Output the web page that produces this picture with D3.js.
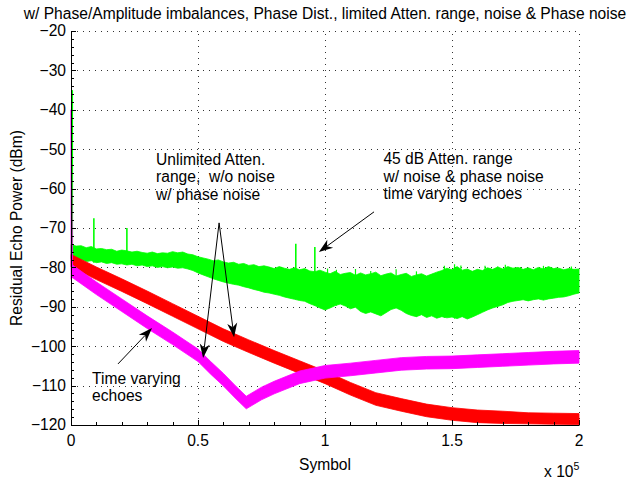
<!DOCTYPE html>
<html><head><meta charset="utf-8">
<script src="https://cdn.jsdelivr.net/npm/d3@7/dist/d3.min.js"></script>
<style>
body{margin:0;background:#fff}
svg{display:block}
text{font-family:"Liberation Sans",Arial,Helvetica,sans-serif;fill:#000;white-space:pre}
</style>
</head><body>
<svg id="chart" width="628" height="479"></svg>
<script>
// ---------- data ----------
const titleText = "w/ Phase/Amplitude imbalances, Phase Dist., limited Atten. range, noise & Phase noise";
const xLabel = "Symbol";
const yLabel = "Residual Echo Power (dBm)";
const xTicks = [0, 50000, 100000, 150000, 200000];
const xTickLabels = ["0", "0.5", "1", "1.5", "2"];
const yTicks = [-20, -30, -40, -50, -60, -70, -80, -90, -100, -110, -120];
const yTickLabels = ["\u221220","\u221230","\u221240","\u221250","\u221260","\u221270","\u221280","\u221290","\u2212100","\u2212110","\u2212120"];

// Green: 45 dB atten. range, noise, time varying echoes (sampled every 2000 symbols)
const greenStep = 2000;
const greenUpper = [
 -74.2,-74.6,-74.5,-75.0,-74.7,-75.3,-75.2,-75.5,-75.4,-75.9,-75.6,-75.8,-76.1,-75.9,-76.2,-76.4,-76.1,-76.5,-76.3,-76.4,-76.0,-76.3,-76.1,-76.6,-76.8,
 -77.3,-77.6,-77.9,-78.3,-78.1,-78.6,-78.9,-78.7,-79.2,-79.0,-79.5,-79.3,-79.8,-79.6,-79.9,-80.3,-79.8,-80.2,-80.5,-80.1,-80.6,-80.3,-80.9,-81.1,-80.7,
 -81.2,-81.6,-81.0,-81.8,-81.5,-81.3,-82.0,-81.4,-81.9,-81.6,-81.2,-82.1,-81.7,-81.4,-82.2,-81.8,-81.5,-82.3,-81.9,-81.6,-82.2,-81.7,-81.2,-80.8,-80.2,
 -80.6,-79.8,-80.7,-80.4,-81.0,-80.5,-80.8,-80.1,-80.5,-79.9,-80.4,-79.8,-80.2,-80.0,-80.5,-80.1,-80.6,-80.0,-80.4,-79.8,-80.3,-80.2,-80.6,-80.3,-80.5,-80.4
];
const greenLower = [
 -77.8,-78.2,-78.0,-78.5,-78.3,-78.8,-78.6,-79.0,-78.8,-79.2,-79.1,-79.4,-79.2,-79.6,-79.4,-79.8,-79.6,-80.0,-79.8,-80.1,-79.9,-80.2,-80.1,-80.4,-80.8,
 -81.4,-81.9,-82.4,-82.9,-83.3,-83.7,-84.0,-84.3,-84.5,-84.9,-85.2,-85.6,-85.9,-86.3,-86.5,-86.8,-87.1,-87.5,-87.8,-88.1,-88.4,-88.6,-89.2,-89.7,-90.3,
 -90.8,-90.3,-89.7,-89.3,-89.8,-90.5,-90.1,-91.2,-91.7,-91.3,-91.8,-92.3,-91.5,-90.7,-90.3,-90.9,-91.7,-92.2,-92.5,-92.0,-92.7,-92.3,-92.9,-92.5,-92.8,
 -92.6,-93.0,-92.5,-93.1,-92.6,-92.0,-91.4,-90.8,-90.3,-89.9,-89.5,-88.9,-88.6,-88.4,-88.2,-88.5,-88.2,-88.0,-88.3,-88.0,-87.8,-87.6,-87.5,-87.2,-86.8,-86.5
];
// narrow spikes of the green trace: [symbol, peak dBm]
const greenSpikeX   = [500, 9000, 22000, 88500, 96000, 101000, 104500, 112000, 118000, 128000, 136000, 147000, 151000, 153500, 163000, 168000, 171000, 177000, 186000, 191000, 197000];
const greenSpikeTop = [-35, -67.5, -70, -74, -74.8, -80.3, -80.6, -80.4, -80.9, -80.5, -81.0, -79.6, -79.2, -79.5, -79.6, -79.8, -79.3, -79.9, -79.6, -80.0, -79.8];

// Red: unlimited atten. range, w/o noise, w/ phase noise
const redX     = [0, 10000, 20000, 30000, 40000, 50000, 60000, 70000, 80000, 90000, 100000, 110000, 120000, 130000, 140000, 150000, 160000, 170000, 180000, 190000, 200000];
const redUpper = [-76.7,-79.9,-82.9,-86.0,-89.2,-92.4,-95.6,-98.4,-101.1,-103.7,-106.3,-109.2,-111.8,-113.3,-114.7,-115.6,-116.2,-116.5,-116.9,-117.0,-117.1];
const redLower = [-79.9,-83.1,-86.1,-89.2,-92.4,-95.6,-98.8,-101.6,-104.3,-106.9,-109.5,-112.4,-115.0,-116.5,-117.9,-118.8,-119.4,-119.6,-119.7,-119.8,-119.9];

// Magenta: unlimited atten. range, time varying echoes
const magX     = [0, 600, 10000, 20000, 30000, 40000, 50000, 55000, 60000, 65000, 69000, 75000, 80000, 90000, 100000, 110000, 120000, 130000, 140000, 150000, 160000, 170000, 180000, 190000, 200000];
const magUpper = [-40.0,-79.4,-83.7,-88.0,-92.3,-96.4,-100.7,-103.9,-106.9,-110.2,-112.7,-110.4,-108.9,-106.3,-104.9,-104.3,-103.6,-102.9,-102.6,-102.5,-102.2,-101.9,-101.6,-101.3,-101.1];
const magLower = [-83.0,-82.6,-86.9,-91.2,-95.5,-99.6,-103.9,-107.1,-110.1,-113.4,-115.9,-113.6,-112.1,-109.5,-108.1,-107.5,-106.8,-106.1,-105.8,-105.7,-105.4,-105.1,-104.8,-104.5,-104.3];

// annotations (data coordinates)
const noteLines = [
  {x: 33500, y: -54.0, lines: ["Unlimited Atten.", "range,  w/o noise", "w/ phase noise"]},
  {x: 123000, y: -53.8, lines: ["45 dB Atten. range", "w/ noise & phase noise", "time varying echoes"]},
  {x: 8300, y: -109.5, lines: ["Time varying", "echoes"]}
];
const arrows = [
  {x1: 58300, y1: -68.7, x2: 52000, y2: -103.0},
  {x1: 58300, y1: -68.7, x2: 64200, y2: -97.7},
  {x1: 119300, y1: -65.9, x2: 97600, y2: -76.1},
  {x1: 18500, y1: -104.5, x2: 31900, y2: -95.4}
];

// ---------- drawing ----------
const W = 628, H = 479;
const L = 71, R = 579, T = 31, B = 425;
const svg = d3.select("#chart");
svg.append("rect").attr("width", W).attr("height", H).attr("fill", "#fff");

const x = d3.scaleLinear().domain([0, 200000]).range([L, R]);
const y = d3.scaleLinear().domain([-120, -20]).range([B, T]);

// grid
const grid = svg.append("g").attr("stroke", "#333").attr("stroke-width", 1).attr("stroke-dasharray", "1,5");
yTicks.forEach(v => {
  grid.append("line").attr("x1", L).attr("x2", R).attr("y1", Math.round(y(v)) + 0.5).attr("y2", Math.round(y(v)) + 0.5);
});
xTicks.forEach(v => {
  grid.append("line").attr("y1", B).attr("y2", T).attr("x1", Math.round(x(v)) + 0.5).attr("x2", Math.round(x(v)) + 0.5);
});

const plot = svg.append("g");

// green band
const greenData = greenUpper.map((u, i) => ({x: i * greenStep, u: u, l: greenLower[i]}));
plot.append("path").datum(greenData)
  .attr("fill", "#00ff00").attr("stroke", "#00ff00").attr("stroke-width", 0.8)
  .attr("d", d3.area().x(d => x(d.x)).y0(d => y(d.l)).y1(d => y(d.u)));
// green spikes
greenSpikeX.forEach((sx, i) => {
  const idx = Math.min(greenUpper.length - 1, Math.round(sx / greenStep));
  plot.append("line").attr("x1", x(sx)).attr("x2", x(sx))
    .attr("y1", y(greenLower[idx])).attr("y2", y(greenSpikeTop[i]))
    .attr("stroke", "#00ff00").attr("stroke-width", i < 5 ? 1.6 : 1.2);
});

// red band
const redData = redX.map((xv, i) => ({x: xv, u: redUpper[i], l: redLower[i]}));
plot.append("path").datum(redData)
  .attr("fill", "#ff0000").attr("stroke", "#ff0000").attr("stroke-width", 0.8)
  .attr("d", d3.area().x(d => x(d.x)).y0(d => y(d.l)).y1(d => y(d.u)));

// magenta band
const magData = magX.map((xv, i) => ({x: xv, u: magUpper[i], l: magLower[i]}));
plot.append("path").datum(magData)
  .attr("fill", "#ff00ff").attr("stroke", "#ff00ff").attr("stroke-width", 0.8)
  .attr("d", d3.area().x(d => x(d.x)).y0(d => y(d.l)).y1(d => y(d.u)));

// axes
const ax = svg.append("g").attr("stroke", "#000").attr("stroke-width", 1).attr("fill", "none");
ax.append("line").attr("x1", L + 0.5).attr("x2", L + 0.5).attr("y1", T).attr("y2", B + 0.5);
ax.append("line").attr("x1", L).attr("x2", R + 0.5).attr("y1", B + 0.5).attr("y2", B + 0.5);
yTicks.forEach(v => {
  const yy = Math.round(y(v)) + 0.5;
  ax.append("line").attr("x1", L).attr("x2", L + 5).attr("y1", yy).attr("y2", yy);
});
xTicks.forEach(v => {
  const xx = Math.round(x(v)) + 0.5;
  ax.append("line").attr("x1", xx).attr("x2", xx).attr("y1", B).attr("y2", B - 5);
});
d3.range(-120, -20, 2).forEach(v => {
  if (v % 10 === 0) return;
  const yy = Math.round(y(v)) + 0.5;
  ax.append("line").attr("x1", L).attr("x2", L + 3).attr("y1", yy).attr("y2", yy);
});
d3.range(0, 200000, 10000).forEach(v => {
  if (v % 50000 === 0) return;
  const xx = Math.round(x(v)) + 0.5;
  ax.append("line").attr("x1", xx).attr("x2", xx).attr("y1", B).attr("y2", B - 3);
});

// tick labels
const fs = 15.6;
yTicks.forEach((v, i) => {
  svg.append("text").attr("x", L - 5).attr("y", y(v)).attr("dy", "0.35em")
    .attr("text-anchor", "end").attr("font-size", fs).text(yTickLabels[i]);
});
xTicks.forEach((v, i) => {
  svg.append("text").attr("x", x(v)).attr("y", B + 21)
    .attr("text-anchor", "middle").attr("font-size", fs).text(xTickLabels[i]);
});
const ex = svg.append("text").attr("x", 544).attr("y", 477).attr("font-size", fs);
ex.append("tspan").text("x 10");
ex.append("tspan").attr("dy", -7).attr("font-size", 10.5).text("5");

svg.append("text").attr("x", (L + R) / 2).attr("y", 470).attr("text-anchor", "middle").attr("font-size", fs).text(xLabel);
svg.append("text").attr("transform", `translate(22,${(T + B) / 2}) rotate(-90)`)
  .attr("text-anchor", "middle").attr("font-size", fs).text(yLabel);
svg.append("text").attr("x", (L + R) / 2).attr("y", 19).attr("text-anchor", "middle").attr("font-size", fs).text(titleText);

noteLines.forEach(n => {
  const t = svg.append("text").attr("x", x(n.x)).attr("y", y(n.y)).attr("font-size", fs);
  n.lines.forEach((ln, j) => {
    t.append("tspan").attr("x", x(n.x)).attr("dy", j === 0 ? 0 : 17.5).text(ln);
  });
});

arrows.forEach(a => {
  const x1 = x(a.x1), y1 = y(a.y1), x2 = x(a.x2), y2 = y(a.y2);
  const dx = x2 - x1, dy = y2 - y1, len = Math.hypot(dx, dy);
  const ux = dx / len, uy = dy / len, px = -uy, py = ux;
  const hl = 14, hw = 5, notch = 10;
  svg.append("line").attr("x1", x1).attr("y1", y1).attr("x2", x2 - ux * notch).attr("y2", y2 - uy * notch)
    .attr("stroke", "#000").attr("stroke-width", 1);
  const pts = [
    [x2, y2],
    [x2 - ux * hl + px * hw, y2 - uy * hl + py * hw],
    [x2 - ux * notch, y2 - uy * notch],
    [x2 - ux * hl - px * hw, y2 - uy * hl - py * hw]
  ];
  svg.append("path").attr("d", "M" + pts.map(p => p.join(",")).join("L") + "Z").attr("fill", "#000");
});
</script>
</body></html>
